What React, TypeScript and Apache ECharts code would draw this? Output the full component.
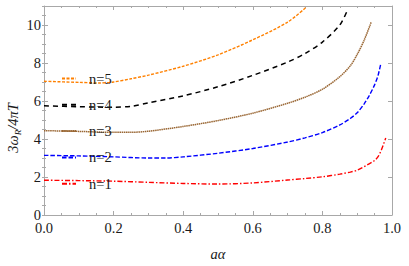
import React, { useEffect, useRef } from "react";
import * as echarts from "echarts";

// a·α values and 3ω_R/4πT values
const aN1 = [0, 0.1, 0.2, 0.3, 0.4, 0.5, 0.6, 0.7, 0.75, 0.8, 0.85, 0.88, 0.9, 0.93, 0.95, 0.96, 0.97, 0.982];
const vN1 = [1.83, 1.81, 1.78, 1.72, 1.66, 1.63, 1.69, 1.84, 1.92, 2.01, 2.15, 2.26, 2.36, 2.65, 2.87, 3.07, 3.45, 4.05];

const aN2 = [0, 0.1, 0.2, 0.3, 0.35, 0.4, 0.5, 0.6, 0.7, 0.75, 0.8, 0.85, 0.88, 0.9, 0.92, 0.935, 0.95, 0.96, 0.968];
const vN2 = [3.14, 3.11, 3.06, 3.0, 3.0, 3.06, 3.25, 3.5, 3.84, 4.06, 4.34, 4.74, 5.08, 5.38, 5.85, 6.3, 6.85, 7.35, 7.98];

const aN3 = [0, 0.1, 0.2, 0.25, 0.3, 0.4, 0.5, 0.6, 0.7, 0.75, 0.8, 0.85, 0.88, 0.9, 0.92, 0.94];
const vN3 = [4.44, 4.4, 4.35, 4.35, 4.41, 4.66, 4.97, 5.36, 5.88, 6.2, 6.62, 7.28, 7.85, 8.45, 9.2, 10.14];

const aN4 = [0, 0.1, 0.2, 0.25, 0.3, 0.4, 0.5, 0.6, 0.7, 0.75, 0.8, 0.85, 0.873];
const vN4 = [5.75, 5.7, 5.67, 5.72, 5.9, 6.27, 6.75, 7.35, 8.05, 8.5, 9.1, 10.0, 10.82];

const aN5 = [0, 0.1, 0.16, 0.2, 0.25, 0.3, 0.4, 0.5, 0.6, 0.7, 0.755];
const vN5 = [7.04, 6.98, 6.95, 7.0, 7.17, 7.36, 7.83, 8.43, 9.22, 10.15, 10.96];

const seriesNames = ["n=1", "n=2", "n=3", "n=4", "n=5"];
const legendOrder = ["n=5", "n=4", "n=3", "n=2", "n=1"];
const xTickValues = [0, 0.2, 0.4, 0.6, 0.8, 1.0];
const yTickValues = [0, 2, 4, 6, 8, 10];

const zip = (a: number[], v: number[]) => a.map((x, i) => [x, v[i]]);

const FONT = "'Liberation Serif', 'DejaVu Serif', serif";
const FRAME = "#a8a8a8";

export default function App() {
  const ref = useRef<HTMLDivElement>(null);
  useEffect(() => {
    document.body.style.margin = "0";
    const chart = echarts.init(ref.current!, undefined, { renderer: "svg" });

    const baseAxis = (extra: any) => ({
      type: "value",
      splitLine: { show: false },
      axisLine: { show: false, lineStyle: { color: FRAME, width: 1 } },
      axisTick: { show: true, inside: true, length: 4, lineStyle: { color: FRAME, width: 1 } },
      axisLabel: { show: false },
      ...extra,
    });

    const xMin = xTickValues[0];
    const xMax = xTickValues[xTickValues.length - 1];
    const yMin = yTickValues[0];
    const yMax = 11;

    const xMajor = (pos: string, labels: boolean) =>
      baseAxis({
        min: xMin,
        max: xMax,
        interval: 0.2,
        position: pos,
        axisLine: { show: true, onZero: false, lineStyle: { color: FRAME, width: 1 } },
        minorTick: { show: true, splitNumber: 4, length: 2, lineStyle: { color: FRAME, width: 1 } },
        axisLabel: labels
          ? {
              show: true,
              margin: 5,
              color: "#1a1a1a",
              fontFamily: FONT,
              fontSize: 14.5,
              formatter: (v: number) => v.toFixed(1),
            }
          : { show: false },
        ...(labels
          ? {
              name: "aα",
              nameLocation: "middle",
              nameGap: 31,
              nameTextStyle: { fontFamily: FONT, fontSize: 14.5, fontStyle: "italic", color: "#1a1a1a" },
            }
          : {}),
      });

    const yMajor = (pos: string, labels: boolean) =>
      baseAxis({
        min: yMin,
        max: yMax,
        interval: 2,
        position: pos,
        axisLine: { show: true, onZero: false, lineStyle: { color: FRAME, width: 1 } },
        axisLabel: labels
          ? {
              show: true,
              margin: 3,
              color: "#1a1a1a",
              fontFamily: FONT,
              fontSize: 14.5,
              showMaxLabel: false,
              formatter: (v: number) => (yTickValues.includes(v) ? String(v) : ""),
            }
          : { show: false },
      });

    const yMinor = (pos: string) =>
      baseAxis({
        min: yMin,
        max: yMax,
        interval: 0.5,
        position: pos,
        axisTick: { show: true, inside: true, length: 2, lineStyle: { color: FRAME, width: 1 } },
      });

    const lineSeries = (name: string, data: number[][], color: string, type: any, width: number) => ({
      name,
      type: "line",
      data,
      xAxisIndex: 0,
      yAxisIndex: 0,
      symbol: "circle",
      showSymbol: false,
      smooth: 0.3,
      clip: true,
      lineStyle: { color, type, width },
      itemStyle: { color },
    });

    chart.setOption({
      animation: false,
      grid: { left: 44, right: 17, top: 6, bottom: 45, containLabel: false },
      xAxis: [xMajor("bottom", true), xMajor("top", false)],
      yAxis: [yMajor("left", true), yMinor("left"), yMajor("right", false), yMinor("right")],
      legend: {
        data: legendOrder,
        orient: "vertical",
        left: 61,
        top: 71,
        padding: 0,
        itemWidth: 14,
        itemHeight: 14,
        itemGap: 11.3,
        itemStyle: { color: "rgba(0,0,0,0)", borderWidth: 0, opacity: 0 },
        textStyle: { fontFamily: FONT, fontSize: 14.5, color: "#1a1a1a", lineHeight: 14, padding: [0, 0, 0, 8] },
        selectedMode: false,
      },
      graphic: [
        {
          type: "text",
          x: 13,
          y: 128,
          rotation: Math.PI / 2,
          style: {
            text: "{a|3ω}{s|R}{a|/4π}{a|T}",
            align: "center",
            verticalAlign: "middle",
            fill: "#1a1a1a",
            rich: {
              a: { fontFamily: FONT, fontSize: 14.5, fontStyle: "italic", lineHeight: 18, fill: "#1a1a1a" },
              s: { fontFamily: FONT, fontSize: 9, fontStyle: "italic", lineHeight: 9, verticalAlign: "bottom", fill: "#1a1a1a" },
            },
          },
        },
      ],
      series: [
        lineSeries(seriesNames[0], zip(aN1, vN1), "#ff0000", [5, 2, 1.5, 2], 1.4),
        lineSeries(seriesNames[1], zip(aN2, vN2), "#0000ff", [4.5, 2], 1.4),
        lineSeries(seriesNames[2], zip(aN3, vN3), "#996633", [1.5, 0.6], 1.5),
        lineSeries(seriesNames[3], zip(aN4, vN4), "#000000", [5, 4], 1.5),
        lineSeries(seriesNames[4], zip(aN5, vN5), "#ff8000", [3, 1.5], 1.4),
      ],
    });
    return () => chart.dispose();
  }, []);
  return <div ref={ref} style={{ width: 409, height: 266 }} />;
}
